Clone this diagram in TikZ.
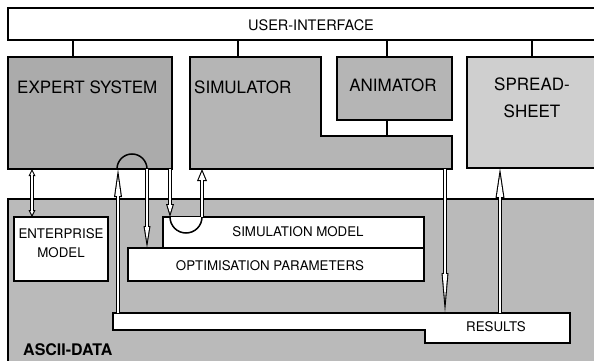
\documentclass[tikz,border=0pt]{standalone}
\usepackage{fontspec}
\setmainfont{TeX Gyre Heros}
\usetikzlibrary{arrows.meta}

\tikzset{
  box/.style={draw, line width=1.6pt, inner sep=0pt, outer sep=0pt, anchor=north west},
  stub/.style={line width=1.6pt},
  big/.style={font=\fontsize{17}{20}\selectfont, inner sep=0pt},
  small/.style={font=\fontsize{13.3}{19}\selectfont, inner sep=0pt, align=center},
  flow/.code 2 args={%
    \pgfmathsetmacro\flowoff{1.1*sqrt((#1)^2+(#2/2)^2)/(#2/2)}%
    \pgfmathsetmacro\flowil{#1-\flowoff-1.1}%
    \pgfmathsetmacro\flowiw{#2*\flowil/#1}%
    \edef\flowkeys{\noexpand\tikzset{line width=4.2pt,
      arrows={-Triangle[length=#1pt,width=#2pt,line width=0pt 0 0]},
      postaction={draw=white, line width=2pt, shorten >=\flowoff pt,
        arrows={-Triangle[length=\flowil pt,width=\flowiw pt,line width=0pt 0 0]}}}}%
    \flowkeys},
  flowboth/.code 2 args={%
    \pgfmathsetmacro\flowoff{1.1*sqrt((#1)^2+(#2/2)^2)/(#2/2)}%
    \pgfmathsetmacro\flowil{#1-\flowoff-1.1}%
    \pgfmathsetmacro\flowiw{#2*\flowil/#1}%
    \edef\flowkeys{\noexpand\tikzset{line width=4.2pt,
      arrows={Triangle[length=#1pt,width=#2pt,line width=0pt 0 0]-Triangle[length=#1pt,width=#2pt,line width=0pt 0 0]},
      postaction={draw=white, line width=2pt, shorten <=\flowoff pt, shorten >=\flowoff pt,
        arrows={Triangle[length=\flowil pt,width=\flowiw pt,line width=0pt 0 0]-Triangle[length=\flowil pt,width=\flowiw pt,line width=0pt 0 0]}}}}%
    \flowkeys}
}

\begin{document}
\begin{tikzpicture}[x=1pt,y=-1pt]
\useasboundingbox (0,0) rectangle (594,361);

% shaded blocks
\node[box, fill=black!27, minimum width=602pt, minimum height=171pt] (ascii) at (8,199) {};
\node[box, fill=white, minimum width=602pt, minimum height=32pt] (ui) at (8,8) {};
\node[box, fill=black!33, minimum width=164pt, minimum height=112pt] (expert) at (8,57) {};
\draw[line width=1.6pt, fill=black!29] (190,57) coordinate (simtop) -- (321,57) -- (321,136) coordinate (simstep)
  -- (452,136) -- (452,169) -- (190,169) coordinate (simbot) -- cycle;
\node[box, fill=black!29, minimum width=115pt, minimum height=63pt] (animator) at (337,57) {};
\node[box, fill=black!19, minimum width=143pt, minimum height=111pt] (spread) at (467,57) {};

% data files
\node[box, fill=white, minimum width=94pt, minimum height=64pt] (enterprise) at (14,217) {};
\node[box, fill=white, minimum width=261pt, minimum height=31pt] (simmodel) at (163,217) {};
\node[box, fill=white, minimum width=296pt, minimum height=33pt] (optpar) at (128,248) {};
\draw[line width=1.6pt, fill=white] (113,313) coordinate (restop) -- (570,313) -- (570,343)
  -- (425,343) -- (425,330) -- (113,330) -- cycle;

% labels
\node[font=\fontsize{14.5}{17}\selectfont, inner sep=0pt] (uilbl) at (311,25) {USER-INTERFACE};
\node[big, anchor=west] (expertlbl) at (17,87) {EXPERT SYSTEM};
\node[big, anchor=west] (simlbl) at (194,87) {SIMULATOR};
\node[big] (animlbl) at (393,85) {ANIMATOR};
\node[big, align=center, font=\fontsize{17}{27}\selectfont] (spreadlbl) at (532,98) {SPREAD-\\SHEET};
\node[small] (entlbl) at (61,243) {ENTERPRISE\\MODEL};
\node[small] (simmodlbl) at (298,232) {SIMULATION MODEL};
\node[small] (optlbl) at (270,266) {OPTIMISATION PARAMETERS};
\node[small] (reslbl) at (496,327) {RESULTS};
\node[font=\fontsize{16}{19}\selectfont\bfseries, inner sep=0pt, anchor=west] (asciilbl) at (23,350) {ASCII-DATA};

% links to the user interface
\draw[stub] (ui.south -| 73,0) -- (expert.north -| 73,0);
\draw[stub] (ui.south -| 238,0) -- (simtop -| 238,0);
\draw[stub] (ui.south -| 387,0) -- (animator.north -| 387,0);
\draw[stub] (animator.south -| 387,0) -- (simstep -| 387,0);
\draw[stub] (ui.south -| 532,0) -- (spread.north -| 532,0);

% loops
\draw[line width=1.5pt] (expert.south -| 117,0) arc (180:360:15);
\draw[line width=1.5pt, fill=white] (simmodel.north -| 170,0) arc (180:0:16);

% data flow
\draw[flowboth={7}{7}] (enterprise.north -| 32,0) -- (expert.south -| 32,0);
\draw[flow={28}{8}] (restop -| 118,0) -- (expert.south -| 118,0);
\draw[flow={22}{7}] (expert.south -| 147,0) -- (optpar.north -| 147,0);
\draw[flow={13}{8}] (expert.south -| 170,0) -- (simmodel.north -| 170,0);
\draw[flow={12}{10}] (simmodel.north -| 202,0) -- (simbot -| 202,0);
\draw[flow={40}{7}] (simbot -| 445,0) -- (restop -| 445,0);
\draw[flow={30}{9}] (restop -| 500,0) -- (spread.south -| 500,0);
\end{tikzpicture}
\end{document}
